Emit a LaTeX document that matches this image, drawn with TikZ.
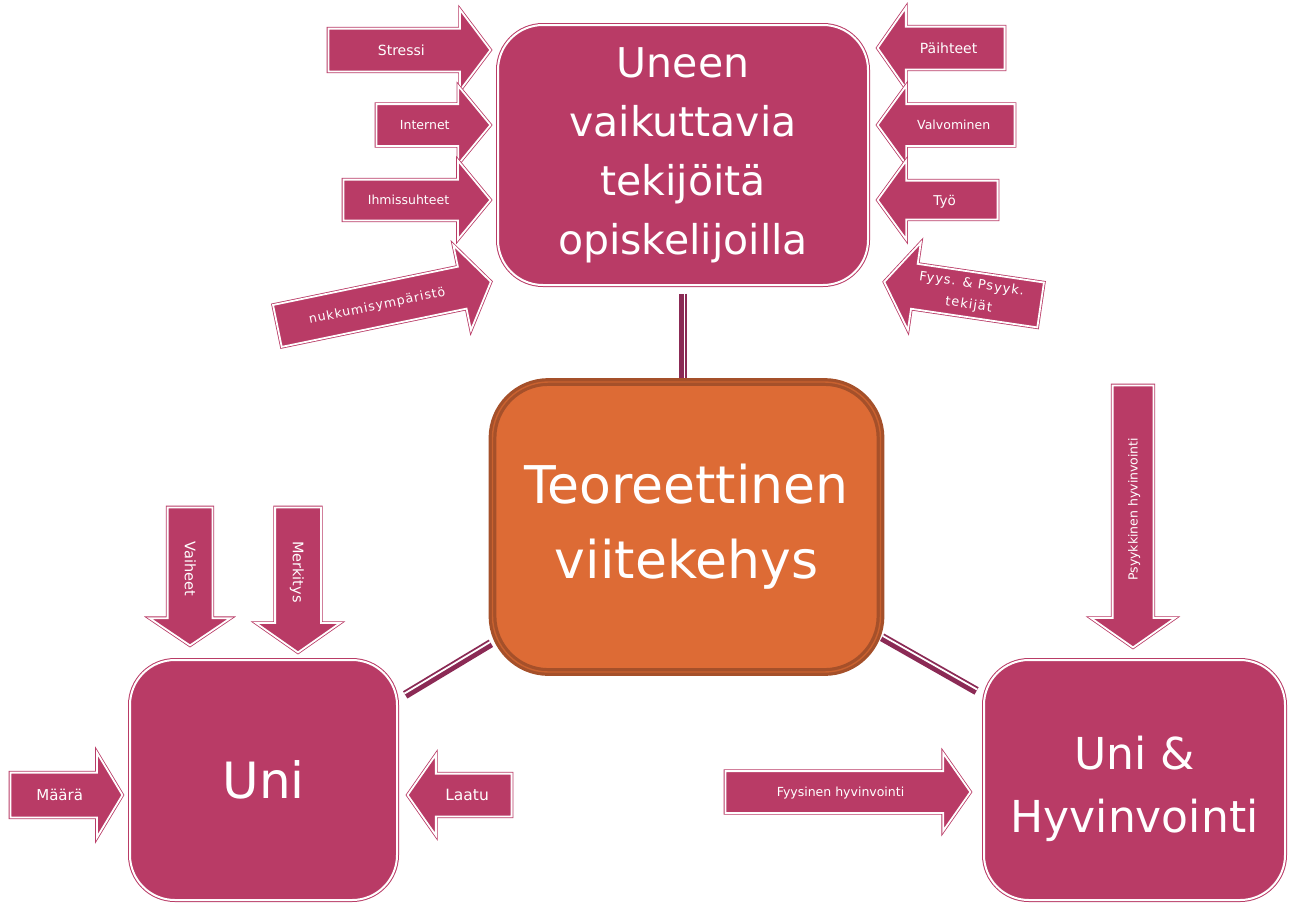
\documentclass[tikz,border=0pt]{standalone}
\usepackage{fontspec}
\setmainfont{DejaVu Sans}
\newfontfamily\spaced[LetterSpace=8]{DejaVu Sans}
\usetikzlibrary{shapes.arrows,backgrounds}
\definecolor{rose}{HTML}{B93B66}
\definecolor{orangefill}{HTML}{DD6B35}
\definecolor{brownline}{HTML}{A5502A}
\definecolor{brownlight}{HTML}{C9612F}
\definecolor{maroonc}{HTML}{8B2A55}
\tikzset{
  rosebox/.style={rectangle, rounded corners=45pt, fill=rose, draw=rose, line width=1pt,
    double=white, double distance=2pt, inner sep=0pt, text=white, align=center},
  centerbox/.style={rectangle, rounded corners=56pt, fill=orangefill, draw=brownline,
    line width=3.2pt, double=brownlight, double distance=1.4pt, inner sep=0pt, text=white, align=center},
  arrbase/.style={single arrow, fill=rose, draw=rose, line width=0.8pt, double=white,
    double distance=1.8pt, inner sep=0pt, text=white, anchor=tail, minimum width=0pt},
  arr/.style n args={5}{arrbase, single arrow head extend=#1pt, single arrow tip angle=#2,
    minimum height=#3pt, text height=#4pt, text depth=#5pt},
  fs/.style={font=\fontsize{#1}{#1}\selectfont},
  connthick/.style={draw=maroonc, line width=8.5pt},
  connwhite/.style={draw=white, line width=1.8pt}
}
\begin{document}
\begin{tikzpicture}[x=1pt,y=-1pt]
\useasboundingbox (0,0) rectangle (1293,906);
% boxes
\node[rosebox, minimum width=370pt, minimum height=260pt, font=\fontsize{41}{59}\selectfont] (top) at (683,155)
  {Uneen\\vaikuttavia\\tekijöitä\\opiskelijoilla};
\node[centerbox, minimum width=388pt, minimum height=290pt, font=\fontsize{52}{75}\selectfont] (center) at (686.5,527)
  {Teoreettinen\\viitekehys};
\node[rosebox, minimum width=267pt, minimum height=240pt, font=\fontsize{50}{60}\selectfont] (uni) at (263.5,780) {Uni};
\node[rosebox, minimum width=301pt, minimum height=240pt, font=\fontsize{44}{63}\selectfont] (unihyv) at (1134.5,780)
  {\rule{0pt}{52pt}Uni \&\\Hyvinvointi};
% connectors
\begin{scope}[on background layer]
\draw[connthick, shorten <=8pt] (top.south) -- (top.south |- center.north);
\draw[connwhite, shorten <=8pt, transform canvas={shift={(1.5,0)}}] (top.south) -- (top.south |- center.north);
\draw[connthick, shorten <=9pt] (uni) -- (center);
\draw[connwhite, shorten <=9pt, transform canvas={shift={(-0.77,-1.29)}}] (uni) -- (center);
\draw[connthick, shorten >=8pt] (center) -- (unihyv);
\draw[connwhite, shorten >=8pt, transform canvas={shift={(0.74,-1.31)}}] (center) -- (unihyv);
\end{scope}
% arrows
\node[arr={19}{106}{162}{26}{16}, fs=14] (stressi) at (328,50) {Stressi};
\node[arr={18}{101}{114}{25}{16}, fs=12.5] (internet) at (376,125) {Internet};
\node[arr={19}{101}{147}{24.5}{15.5}, fs=12.5] (ihmis) at (343,200) {Ihmissuhteet};
\node[arr={22}{112}{218}{25.5}{16.5}, rotate=11.7, fs=12.5] (nukku) at (277,326) {\spaced nukkumisympäristö};
\node[arr={19}{110}{127}{26}{16}, shape border rotate=180, fs=14] (paihteet) at (1005,48) {Päihteet};
\node[arr={18.5}{108}{137}{25}{16}, shape border rotate=180, fs=12.5] (valvo) at (1015,125) {Valvominen};
\node[arr={20}{108}{120}{24}{14}, shape border rotate=180, fs=13.5] (tyo) at (998,200) {Työ};
\node[arrbase, single arrow head extend=21.5pt, single arrow tip angle=111, minimum height=158pt,
  inner ysep=5.5pt, shape border rotate=180, rotate=-8.4, align=center,
  font=\spaced\fontsize{13}{21}\selectfont] (fyys) at (1041,305) {Fyys. \& Psyyk.\\tekijät};
\node[arr={18}{112}{138}{27.2}{16.8}, rotate=-90, fs=14.5] (vaiheet) at (190,507) {Vaiheet};
\node[arr={19}{110}{145}{27.7}{17.3}, rotate=-90, fs=14.5] (merkitys) at (298,507) {Merkitys};
\node[arr={20}{118}{112}{27.4}{16.6}, fs=15] (maara) at (10,795) {Määrä};
\node[arr={19}{110}{104}{26.6}{15.4}, shape border rotate=180, fs=15.5] (laatu) at (512,795) {Laatu};
\node[arr={21.5}{110}{262}{24.5}{15.5}, shape border rotate=180, rotate=90, fs=12.5] (psyyk) at (1133,385) {Psyykkinen hyvinvointi};
\node[arr={18}{110}{245}{25}{16}, fs=12.5] (fyysinen) at (725,792) {Fyysinen hyvinvointi};
\end{tikzpicture}
\end{document}
